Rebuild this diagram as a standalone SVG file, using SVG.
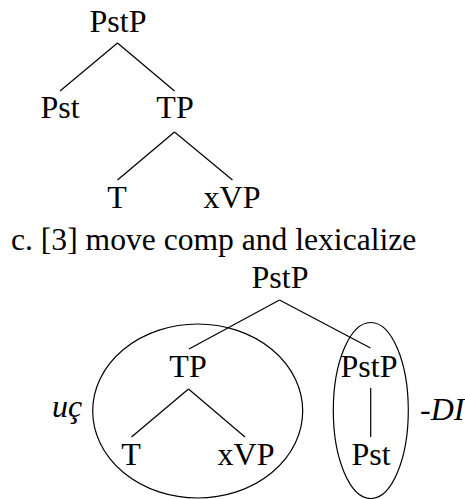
<svg xmlns="http://www.w3.org/2000/svg" width="465" height="499" viewBox="0 0 465 499">
<defs>
<style>
.e{fill:none;stroke:#000;stroke-width:1.2}
.l{stroke:#000;stroke-width:1.2}
</style>
</defs>
<rect width="465" height="499" fill="#fff"/>
<g id="edges">
<line class="l" x1="117.5" y1="43" x2="60" y2="91"/>
<line class="l" x1="117.5" y1="43" x2="174.5" y2="91"/>
<line class="l" x1="174.5" y1="132" x2="117.5" y2="180"/>
<line class="l" x1="174.5" y1="132" x2="232.5" y2="180"/>
<line class="l" x1="279.5" y1="300" x2="189" y2="349"/>
<line class="l" x1="279.5" y1="300" x2="370.5" y2="348"/>
<line class="l" x1="188.5" y1="389" x2="131.5" y2="437"/>
<line class="l" x1="188.5" y1="389" x2="245" y2="437"/>
<line class="l" x1="370.7" y1="388" x2="370.7" y2="437"/>
</g>
<g id="top-PstP"><text x="118" y="32" text-anchor="middle" font-family="Liberation Serif" font-size="32">PstP</text></g>
<g id="top-Pst"><text x="60" y="118" text-anchor="middle" font-family="Liberation Serif" font-size="32">Pst</text></g>
<g id="top-TP"><text x="175" y="118" text-anchor="middle" font-family="Liberation Serif" font-size="32">TP</text></g>
<g id="top-T"><text x="117" y="208" text-anchor="middle" font-family="Liberation Serif" font-size="32">T</text></g>
<g id="top-xVP"><text x="232" y="208" text-anchor="middle" font-family="Liberation Serif" font-size="32">xVP</text></g>
<g id="title"><text x="11" y="250" font-family="Liberation Serif" font-size="31.6">c. [3] move comp and lexicalize</text></g>
<g id="bot-PstP"><text x="280" y="288" text-anchor="middle" font-family="Liberation Serif" font-size="32">PstP</text></g>
<g id="group-uc">
<ellipse class="e" cx="197.7" cy="411" rx="105" ry="87"/>
<text x="52" y="417" font-style="italic" font-family="Liberation Serif" font-size="32">u&#231;</text>
</g>
<g id="bot-TP"><text x="188" y="377" text-anchor="middle" font-family="Liberation Serif" font-size="32">TP</text></g>
<g id="bot-T"><text x="131" y="465" text-anchor="middle" font-family="Liberation Serif" font-size="32">T</text></g>
<g id="bot-xVP"><text x="246" y="465" text-anchor="middle" font-family="Liberation Serif" font-size="32">xVP</text></g>
<g id="group-DI">
<ellipse class="e" cx="370.8" cy="410.5" rx="37.5" ry="88"/>
<text x="420" y="420" font-style="italic" font-family="Liberation Serif" font-size="32">-DI</text>
</g>
<g id="bot-PstP2"><text x="369" y="377" text-anchor="middle" font-family="Liberation Serif" font-size="32">PstP</text></g>
<g id="bot-Pst"><text x="371" y="465" text-anchor="middle" font-family="Liberation Serif" font-size="32">Pst</text></g>
</svg>
